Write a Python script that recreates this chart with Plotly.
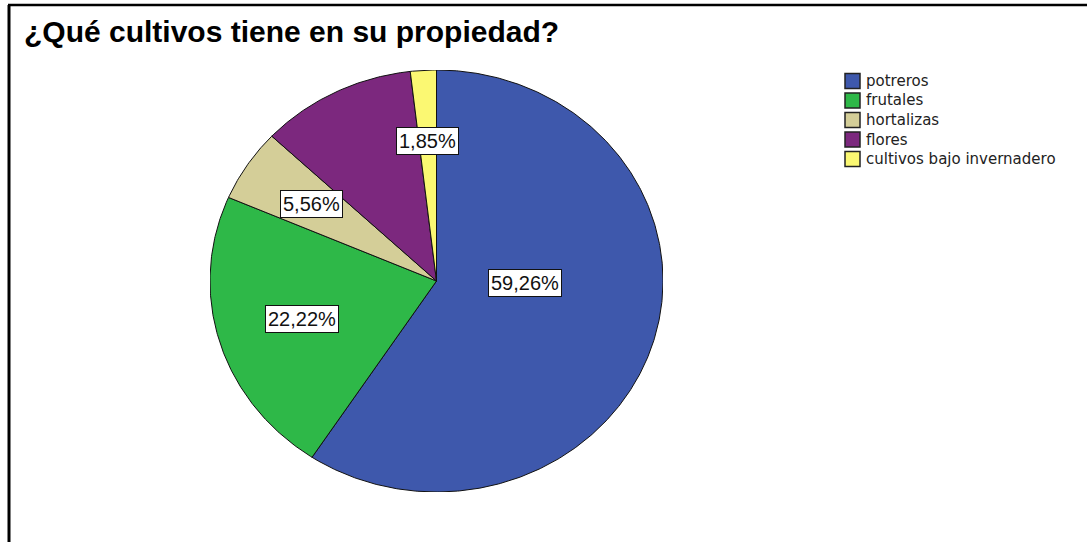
import numpy as np
import plotly.graph_objects as go

# Crops reported and their share of responses (%)
categories = ["potreros", "frutales", "hortalizas", "flores", "cultivos bajo invernadero"]
percentages = [59.26, 22.22, 5.56, 11.11, 1.85]
show_label = [True, True, True, False, True]

colors = ["#3E58AC", "#2EB848", "#D4CE98", "#7C287E", "#FBF872"]

W, H = 1087, 542
# Pie bounding box in pixels (the pie is slightly wider than tall)
PIE_LEFT, PIE_RIGHT, PIE_TOP, PIE_BOTTOM = 210, 663, 70, 492
# Label placement: fraction of radius and angular shift (degrees)
label_radius = [0.39, 0.62, 0.66, 0.65, 0.665]
label_shift = [-15, 0, 0, 0, 0]

fig = go.Figure()

total = sum(percentages)
start = 0.0
mids = []
for name, val, col in zip(categories, percentages, colors):
    sweep = 360.0 * val / total
    theta = np.radians(np.linspace(start, start + sweep, max(int(sweep * 2), 4)))
    xs = np.concatenate([[0], np.sin(theta), [0]])
    ys = np.concatenate([[0], np.cos(theta), [0]])
    fig.add_trace(go.Scatter(
        x=xs, y=ys, mode="lines", fill="toself", fillcolor=col,
        line=dict(color="#111111", width=1), name=name,
        hoverinfo="name", showlegend=False,
    ))
    mids.append(start + sweep / 2)
    start += sweep

# Percentage labels in white boxes
for val, mid, r, shift, show in zip(percentages, mids, label_radius, label_shift, show_label):
    if not show:
        continue
    a = np.radians(mid + shift)
    fig.add_annotation(
        x=r * np.sin(a), y=r * np.cos(a), xref="x", yref="y",
        text=f"{val:.2f}%".replace(".", ","), showarrow=False,
        font=dict(family="Liberation Sans, Arial", size=20, color="#111111"),
        bgcolor="white", bordercolor="#111111", borderwidth=1, borderpad=2,
    )

# Legend drawn as swatches with text
LEG_X, LEG_Y0, LEG_DY, SW = 845, 81, 19.5, 15
for i, (name, col) in enumerate(zip(categories, colors)):
    yc = LEG_Y0 + i * LEG_DY
    fig.add_shape(type="rect", xref="paper", yref="paper",
                  x0=LEG_X / W, x1=(LEG_X + SW) / W,
                  y0=1 - (yc - SW / 2) / H, y1=1 - (yc + SW / 2) / H,
                  fillcolor=col, line=dict(color="#222222", width=1.5))
    fig.add_annotation(x=(LEG_X + SW + 4) / W, y=1 - yc / H, xref="paper", yref="paper",
                       text=name, showarrow=False, xanchor="left", yanchor="middle",
                       font=dict(family="DejaVu Sans", size=15, color="#222222"))

# Title
fig.add_annotation(x=22 / W, y=1 - 31 / H, xref="paper", yref="paper",
                   text="<b>¿Qué cultivos tiene en su propiedad?</b>", showarrow=False,
                   xanchor="left", yanchor="middle",
                   font=dict(family="Liberation Sans, Arial", size=30, color="black"))

# Frame lines along the top and left edges
fig.add_shape(type="line", xref="paper", yref="paper", x0=8 / W, x1=1, y0=1 - 5 / H, y1=1 - 5 / H,
              line=dict(color="black", width=2.5))
fig.add_shape(type="line", xref="paper", yref="paper", x0=9 / W, x1=9 / W, y0=1 - 5 / H, y1=0,
              line=dict(color="black", width=3))

fig.update_layout(
    width=W, height=H, margin=dict(l=0, r=0, t=0, b=0),
    paper_bgcolor="white", plot_bgcolor="white", showlegend=False,
    xaxis=dict(domain=[PIE_LEFT / W, PIE_RIGHT / W], range=[-1.0, 1.0], visible=False, fixedrange=True),
    yaxis=dict(domain=[1 - PIE_BOTTOM / H, 1 - PIE_TOP / H], range=[-1.0, 1.0], visible=False, fixedrange=True),
)

fig.write_html("out.html")
